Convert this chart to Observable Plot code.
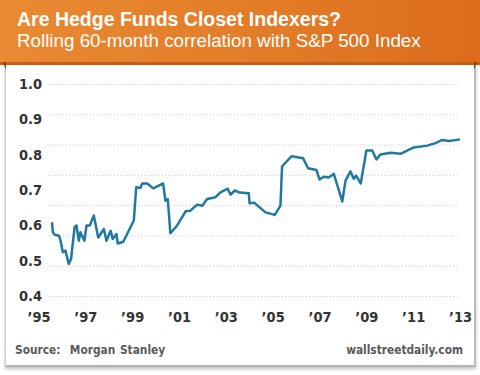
<!DOCTYPE html>
<html>
<head>
<meta charset="utf-8">
<script src="https://cdn.jsdelivr.net/npm/d3@7"></script>
<script src="https://cdn.jsdelivr.net/npm/@observablehq/plot@0.6"></script>
<style>
  html, body { margin: 0; padding: 0; background: #fff; }
  #wrap { position: relative; width: 480px; height: 375px; overflow: hidden; background: #fff; }
  #header {
    position: absolute; left: 0; top: 0; width: 480px; height: 62px;
    background: linear-gradient(to right, #e98a33, #e27a26 60%, #dc6c1c);
    border-bottom: 3px solid #c45f17;
  }
  #title { position: absolute; left: 17px; top: 8px; color: #fff;
    font: bold 19.5px "Liberation Sans", Arial, sans-serif; }
  #subtitle { position: absolute; left: 17px; top: 30px; color: #fff;
    font: 18.8px "Liberation Sans", Arial, sans-serif; }
  #card {
    position: absolute; left: 5px; top: 65px; width: 468px; height: 300px;
    background: #fff; border-left: 1.5px solid #cfcfcf; border-right: 2px solid #bdbdbd;
    border-bottom: 2px solid #b5b5b5; box-shadow: 0 2px 3px rgba(0,0,0,0.25);
  }
  .fold { position: absolute; top: 62px; width: 0; height: 0; }
  #foldL { left: 3px; border-top: 8px solid #8a4510; border-left: 3px solid transparent; }
  #foldR { left: 474px; border-top: 8px solid #8a4510; border-right: 3px solid transparent; }
  #chart { position: absolute; left: 0; top: 65px; }
  .foot { position: absolute; top: 343px; color: #5a5a5a;
    font: bold 11.8px "Liberation Sans Narrow", "Arial Narrow", "DejaVu Sans Condensed", sans-serif; }
  #source { left: 15px; word-spacing: 1px; }
  #site { right: 17px; }
</style>
</head>
<body>
<div id="wrap">
  <div id="card"></div>
  <div id="header">
    <div id="title">Are Hedge Funds Closet Indexers?</div>
    <div id="subtitle">Rolling 60-month correlation with S&amp;P 500 Index</div>
  </div>
  <div class="fold" id="foldL"></div>
  <div class="fold" id="foldR"></div>
  <div id="chart"></div>
  <div class="foot" id="source">Source:&nbsp;&nbsp;Morgan Stanley</div>
  <div class="foot" id="site">wallstreetdaily.com</div>
</div>
<script>
// Time (decimal years) and rolling correlation values
const years = [
  1995.56, 1995.59, 1995.67, 1995.85, 1995.92, 1996.02, 1996.13, 1996.27, 1996.37, 1996.52,
  1996.60, 1996.70, 1996.77, 1996.94, 1997.03, 1997.17, 1997.34, 1997.53, 1997.77, 1997.88,
  1998.06, 1998.15, 1998.31, 1998.36, 1998.60, 1999.05, 1999.15, 1999.33, 1999.41, 1999.62,
  1999.88, 2000.30, 2000.40, 2000.50, 2000.61, 2000.90, 2001.26, 2001.47, 2001.75, 2001.97,
  2002.18, 2002.54, 2002.75, 2003.06, 2003.18, 2003.36, 2003.57, 2003.96, 2003.99, 2004.20,
  2004.67, 2005.07, 2005.31, 2005.38, 2005.78, 2006.28, 2006.49, 2006.85, 2006.98, 2007.16,
  2007.37, 2007.59, 2007.95, 2008.09, 2008.30, 2008.44, 2008.54, 2008.74, 2008.98, 2009.23,
  2009.41, 2009.58, 2010.01, 2010.44, 2011.00, 2011.58, 2011.93, 2012.22, 2012.50, 2012.93
];
const correlation = [
  0.607, 0.582, 0.575, 0.572, 0.558, 0.525, 0.530, 0.492, 0.506, 0.596,
  0.601, 0.558, 0.582, 0.558, 0.601, 0.601, 0.629, 0.567, 0.591, 0.558,
  0.586, 0.563, 0.577, 0.550, 0.555, 0.615, 0.709, 0.707, 0.720, 0.720,
  0.706, 0.720, 0.671, 0.676, 0.579, 0.601, 0.641, 0.643, 0.660, 0.657,
  0.676, 0.681, 0.695, 0.705, 0.688, 0.700, 0.694, 0.692, 0.664, 0.665,
  0.638, 0.631, 0.657, 0.768, 0.797, 0.791, 0.763, 0.758, 0.731, 0.739,
  0.737, 0.747, 0.669, 0.728, 0.754, 0.733, 0.742, 0.720, 0.813, 0.813,
  0.788, 0.802, 0.807, 0.804, 0.822, 0.827, 0.834, 0.843, 0.840, 0.844
];
const yTicks = [0.4, 0.5, 0.6, 0.7, 0.8, 0.9, 1.0];
const xTicks = [1995, 1997, 1999, 2001, 2003, 2005, 2007, 2009, 2011, 2013];
// dotted guide lines: 8 evenly spaced across the value range
const gridValues = d3.range(8).map(i => 0.4 + i * 0.6 / 7);

const data = years.map((y, i) => ({year: y, value: correlation[i]}));
const labelFont = '"Liberation Sans Narrow", "Arial Narrow", "DejaVu Sans Condensed", sans-serif';

const chart = Plot.plot({
  width: 480,
  height: 270,
  marginTop: 19,
  marginBottom: 39,
  marginLeft: 38.5,
  marginRight: 20,
  style: {fontFamily: labelFont, fontSize: "14.5px", fontWeight: "bold", color: "#333", background: "transparent", overflow: "visible"},
  x: {domain: [1995, 2013]},
  y: {domain: [0.4, 1.0]},
  marks: [
    Plot.ruleY(gridValues, {x1: 1995.41, x2: 2012.87, stroke: "#d0d0d0", strokeWidth: 1, strokeDasharray: "1.2,1.8"}),
    Plot.axisY({ticks: yTicks, tickSize: 0, tickPadding: 0, dx: 3, tickFormat: d => d.toFixed(1), label: null}),
    Plot.axisX({ticks: xTicks, tickSize: 0, tickPadding: 15, tickFormat: d => "\u2019" + String(d).slice(2), label: null}),
    Plot.line(data, {x: "year", y: "value", stroke: "#21799f", strokeWidth: 2.5, strokeLinejoin: "round"})
  ]
});
document.getElementById("chart").appendChild(chart);
</script>
</body>
</html>
